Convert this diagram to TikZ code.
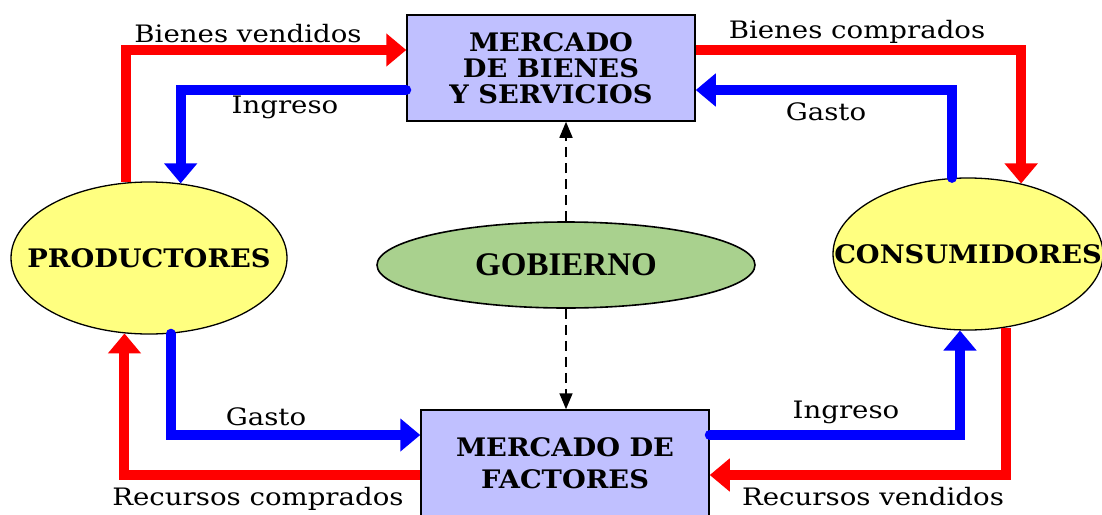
\documentclass[tikz,border=0pt]{standalone}
\usepackage{fontspec}
\setmainfont{DejaVu Serif}
\newfontfamily\flowfont{DejaVu Serif}[FakeStretch=1.15]
\newfontfamily\boxfont{DejaVu Serif}[FakeStretch=1.07]
\newfontfamily\govfont{Liberation Serif}
\usetikzlibrary{positioning}
\usetikzlibrary{shapes.geometric}
\usetikzlibrary{arrows.meta}

\definecolor{marketblue}{HTML}{C0C0FF}
\definecolor{agentyellow}{HTML}{FFFF80}
\definecolor{govgreen}{HTML}{A9D18E}

\begin{document}
\begin{tikzpicture}[
        x=1pt, y=-1pt,
        flow label/.style={font=\flowfont\fontsize{24}{27}\selectfont},
        market box/.style={draw, line width=1.5pt, rectangle, fill=marketblue, minimum width=288pt, minimum height=106pt, align=center, font=\boxfont\fontsize{25.5}{26}\selectfont\bfseries},
        agent/.style={draw, line width=1.3pt, ellipse, fill=agentyellow, inner sep=0pt, font=\boxfont\fontsize{25.5}{28}\selectfont\bfseries},
        red flow/.style={draw=red, line width=10pt, -{Triangle[width=32pt,length=20pt]}},
        blue flow/.style={draw=blue, line width=10pt, line cap=round, -{Triangle[width=32pt,length=20pt]}},
        gov link/.style={line width=1.6pt, dash pattern=on 10pt off 6pt, -{Triangle[width=13pt,length=16pt]}},
    ]
    \useasboundingbox (0,0) rectangle (1102,514);

    % Markets
    \node[market box] (mbs) at (551,68) {MERCADO\\DE BIENES\\Y SERVICIOS};
    \node[market box] (mf) at (565,463) {MERCADO DE\\[6pt]FACTORES};

    % Agents
    \node[agent, minimum width=276pt, minimum height=152pt] (prod) at (149,258) {\makebox[0pt]{PRODUCTORES}};
    \node[agent, minimum width=270pt, minimum height=152pt] (cons) at (968,254) {\makebox[0pt]{CONSUMIDORES}};

    % Government
    \node[draw, line width=1.6pt, ellipse, fill=govgreen, minimum width=378pt, minimum height=86pt, font=\govfont\fontsize{33}{35}\selectfont\bfseries] (gob) at (566,265) {GOBIERNO};

    % Goods market flows
    \draw[red flow] (prod.107) |- ([yshift=18pt]mbs.west);
    \draw[blue flow] ([yshift=-22pt]mbs.west) -| (prod.67);
    \draw[red flow] ([yshift=18pt]mbs.east) -| (cons.53);
    \draw[blue flow] (cons.102) |- ([yshift=-22pt]mbs.east);

    % Factor market flows
    \draw[blue flow] (prod.-74) |- ([yshift=28pt]mf.west);
    \draw[red flow] ([yshift=-12pt]mf.west) -| (prod.-108);
    \draw[blue flow] ([yshift=28pt]mf.east) -| (cons.-96);
    \draw[red flow] (cons.-63) |- ([yshift=-12pt]mf.east);

    % Government links
    \draw[gov link] (gob.north) -- (gob.north |- mbs.south);
    \draw[gov link] (gob.south) -- (gob.south |- mf.north);

    % Labels
    \node[flow label] (l1) at (248,34) {Bienes vendidos};
    \node[flow label] (l2) at (285,107) {Ingreso};
    \node[flow label] (l3) at (857,32) {Bienes comprados};
    \node[flow label] (l4) at (826,112) {Gasto};
    \node[flow label] (l5) at (266,417) {Gasto};
    \node[flow label] (l6) at (258,499) {Recursos comprados};
    \node[flow label] (l7) at (846,412) {Ingreso};
    \node[flow label] (l8) at (873,497) {Recursos vendidos};

\end{tikzpicture}
\end{document}
